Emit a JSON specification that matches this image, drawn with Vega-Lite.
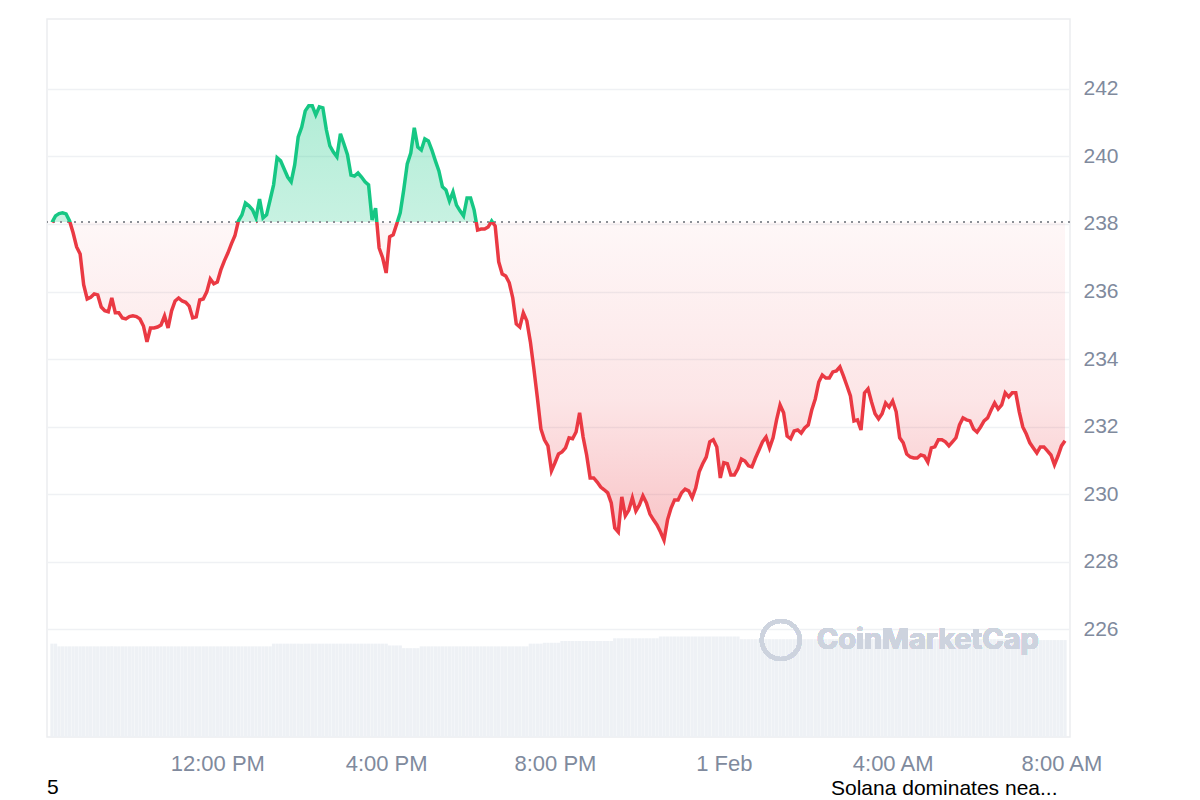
{
  "$schema": "https://vega.github.io/schema/vega-lite/v6.json",
  "width": 1023,
  "height": 718,
  "autosize": {"type": "none"},
  "padding": {"left": 47, "top": 19, "right": 130, "bottom": 63},
  "background": "white",
  "config": {"view": {"stroke": "#ebedf0", "strokeWidth": 1.5}, "font": "Liberation Sans"},
  "title": {"text": "5", "orient": "bottom", "anchor": "start", "frame": "group", "offset": -21, "fontSize": 21, "fontWeight": "normal", "color": "#000000", "font": "Liberation Sans"},
  "data": {"values": [
{"t":"2025-01-31T08:05","p":238.05,"v":104},{"t":"2025-01-31T08:10","p":238.24,"v":104},{"t":"2025-01-31T08:15","p":238.31,"v":101},{"t":"2025-01-31T08:20","p":238.33,"v":101},{"t":"2025-01-31T08:25","p":238.30,"v":101},{"t":"2025-01-31T08:30","p":238.09,"v":101},{"t":"2025-01-31T08:35","p":237.74,"v":101},{"t":"2025-01-31T08:40","p":237.32,"v":101},{"t":"2025-01-31T08:45","p":237.11,"v":101},{"t":"2025-01-31T08:50","p":236.20,"v":101},{"t":"2025-01-31T08:55","p":235.78,"v":101},
{"t":"2025-01-31T09:00","p":235.83,"v":101},{"t":"2025-01-31T09:05","p":235.93,"v":101},{"t":"2025-01-31T09:10","p":235.90,"v":101},{"t":"2025-01-31T09:15","p":235.54,"v":101},{"t":"2025-01-31T09:20","p":235.43,"v":101},{"t":"2025-01-31T09:25","p":235.40,"v":101},{"t":"2025-01-31T09:30","p":235.81,"v":101},{"t":"2025-01-31T09:35","p":235.37,"v":101},{"t":"2025-01-31T09:40","p":235.37,"v":101},{"t":"2025-01-31T09:45","p":235.22,"v":101},{"t":"2025-01-31T09:50","p":235.19,"v":101},{"t":"2025-01-31T09:55","p":235.26,"v":101},
{"t":"2025-01-31T10:00","p":235.28,"v":101},{"t":"2025-01-31T10:05","p":235.26,"v":101},{"t":"2025-01-31T10:10","p":235.19,"v":101},{"t":"2025-01-31T10:15","p":234.98,"v":101},{"t":"2025-01-31T10:20","p":234.51,"v":101},{"t":"2025-01-31T10:25","p":234.92,"v":101},{"t":"2025-01-31T10:30","p":234.92,"v":101},{"t":"2025-01-31T10:35","p":234.95,"v":101},{"t":"2025-01-31T10:40","p":235.01,"v":101},{"t":"2025-01-31T10:45","p":235.28,"v":101},{"t":"2025-01-31T10:50","p":234.92,"v":101},{"t":"2025-01-31T10:55","p":235.43,"v":101},
{"t":"2025-01-31T11:00","p":235.72,"v":101},{"t":"2025-01-31T11:05","p":235.81,"v":101},{"t":"2025-01-31T11:10","p":235.72,"v":101},{"t":"2025-01-31T11:15","p":235.68,"v":101},{"t":"2025-01-31T11:20","p":235.57,"v":101},{"t":"2025-01-31T11:25","p":235.22,"v":101},{"t":"2025-01-31T11:30","p":235.25,"v":101},{"t":"2025-01-31T11:35","p":235.75,"v":101},{"t":"2025-01-31T11:40","p":235.78,"v":101},{"t":"2025-01-31T11:45","p":235.99,"v":101},{"t":"2025-01-31T11:50","p":236.37,"v":101},{"t":"2025-01-31T11:55","p":236.23,"v":101},
{"t":"2025-01-31T12:00","p":236.28,"v":101},{"t":"2025-01-31T12:05","p":236.64,"v":101},{"t":"2025-01-31T12:10","p":236.91,"v":101},{"t":"2025-01-31T12:15","p":237.14,"v":101},{"t":"2025-01-31T12:20","p":237.41,"v":101},{"t":"2025-01-31T12:25","p":237.65,"v":101},{"t":"2025-01-31T12:30","p":238.09,"v":101},{"t":"2025-01-31T12:35","p":238.27,"v":101},{"t":"2025-01-31T12:40","p":238.62,"v":101},{"t":"2025-01-31T12:45","p":238.54,"v":101},{"t":"2025-01-31T12:50","p":238.42,"v":101},{"t":"2025-01-31T12:55","p":238.18,"v":101},
{"t":"2025-01-31T13:00","p":238.74,"v":101},{"t":"2025-01-31T13:05","p":238.18,"v":101},{"t":"2025-01-31T13:10","p":238.27,"v":101},{"t":"2025-01-31T13:15","p":238.71,"v":101},{"t":"2025-01-31T13:20","p":239.16,"v":104},{"t":"2025-01-31T13:25","p":239.96,"v":104},{"t":"2025-01-31T13:30","p":239.87,"v":104},{"t":"2025-01-31T13:35","p":239.63,"v":104},{"t":"2025-01-31T13:40","p":239.39,"v":104},{"t":"2025-01-31T13:45","p":239.25,"v":104},{"t":"2025-01-31T13:50","p":239.75,"v":104},{"t":"2025-01-31T13:55","p":240.58,"v":104},
{"t":"2025-01-31T14:00","p":240.87,"v":104},{"t":"2025-01-31T14:05","p":241.35,"v":104},{"t":"2025-01-31T14:10","p":241.50,"v":104},{"t":"2025-01-31T14:15","p":241.50,"v":104},{"t":"2025-01-31T14:20","p":241.23,"v":104},{"t":"2025-01-31T14:25","p":241.47,"v":104},{"t":"2025-01-31T14:30","p":241.44,"v":104},{"t":"2025-01-31T14:35","p":240.79,"v":104},{"t":"2025-01-31T14:40","p":240.31,"v":104},{"t":"2025-01-31T14:45","p":240.13,"v":104},{"t":"2025-01-31T14:50","p":239.99,"v":104},{"t":"2025-01-31T14:55","p":240.67,"v":104},
{"t":"2025-01-31T15:00","p":240.37,"v":104},{"t":"2025-01-31T15:05","p":240.05,"v":104},{"t":"2025-01-31T15:10","p":239.45,"v":104},{"t":"2025-01-31T15:15","p":239.42,"v":104},{"t":"2025-01-31T15:20","p":239.51,"v":104},{"t":"2025-01-31T15:25","p":239.39,"v":104},{"t":"2025-01-31T15:30","p":239.25,"v":104},{"t":"2025-01-31T15:35","p":239.16,"v":104},{"t":"2025-01-31T15:40","p":238.12,"v":104},{"t":"2025-01-31T15:45","p":238.47,"v":104},{"t":"2025-01-31T15:50","p":237.29,"v":104},{"t":"2025-01-31T15:55","p":237.00,"v":104},
{"t":"2025-01-31T16:00","p":236.55,"v":104},{"t":"2025-01-31T16:05","p":237.62,"v":102},{"t":"2025-01-31T16:10","p":237.68,"v":102},{"t":"2025-01-31T16:15","p":238.00,"v":102},{"t":"2025-01-31T16:20","p":238.33,"v":102},{"t":"2025-01-31T16:25","p":239.01,"v":99},{"t":"2025-01-31T16:30","p":239.78,"v":99},{"t":"2025-01-31T16:35","p":240.10,"v":99},{"t":"2025-01-31T16:40","p":240.85,"v":99},{"t":"2025-01-31T16:45","p":240.28,"v":99},{"t":"2025-01-31T16:50","p":240.19,"v":101},{"t":"2025-01-31T16:55","p":240.52,"v":101},
{"t":"2025-01-31T17:00","p":240.46,"v":101},{"t":"2025-01-31T17:05","p":240.19,"v":101},{"t":"2025-01-31T17:10","p":239.87,"v":101},{"t":"2025-01-31T17:15","p":239.57,"v":101},{"t":"2025-01-31T17:20","p":239.10,"v":101},{"t":"2025-01-31T17:25","p":239.01,"v":101},{"t":"2025-01-31T17:30","p":238.68,"v":101},{"t":"2025-01-31T17:35","p":238.95,"v":101},{"t":"2025-01-31T17:40","p":238.56,"v":101},{"t":"2025-01-31T17:45","p":238.39,"v":101},{"t":"2025-01-31T17:50","p":238.24,"v":101},{"t":"2025-01-31T17:55","p":238.77,"v":101},
{"t":"2025-01-31T18:00","p":238.77,"v":101},{"t":"2025-01-31T18:05","p":238.42,"v":101},{"t":"2025-01-31T18:10","p":237.82,"v":101},{"t":"2025-01-31T18:15","p":237.85,"v":101},{"t":"2025-01-31T18:20","p":237.85,"v":101},{"t":"2025-01-31T18:25","p":237.91,"v":101},{"t":"2025-01-31T18:30","p":238.09,"v":101},{"t":"2025-01-31T18:35","p":237.94,"v":101},{"t":"2025-01-31T18:40","p":236.88,"v":101},{"t":"2025-01-31T18:45","p":236.52,"v":101},{"t":"2025-01-31T18:50","p":236.46,"v":101},{"t":"2025-01-31T18:55","p":236.26,"v":101},
{"t":"2025-01-31T19:00","p":235.81,"v":101},{"t":"2025-01-31T19:05","p":235.04,"v":101},{"t":"2025-01-31T19:10","p":234.95,"v":101},{"t":"2025-01-31T19:15","p":235.37,"v":101},{"t":"2025-01-31T19:20","p":235.13,"v":101},{"t":"2025-01-31T19:25","p":234.51,"v":104},{"t":"2025-01-31T19:30","p":233.71,"v":104},{"t":"2025-01-31T19:35","p":232.85,"v":104},{"t":"2025-01-31T19:40","p":231.93,"v":104},{"t":"2025-01-31T19:45","p":231.61,"v":105},{"t":"2025-01-31T19:50","p":231.43,"v":105},{"t":"2025-01-31T19:55","p":230.69,"v":105},
{"t":"2025-01-31T20:00","p":230.93,"v":105},{"t":"2025-01-31T20:05","p":231.19,"v":105},{"t":"2025-01-31T20:10","p":231.25,"v":107},{"t":"2025-01-31T20:15","p":231.37,"v":107},{"t":"2025-01-31T20:20","p":231.67,"v":107},{"t":"2025-01-31T20:25","p":231.64,"v":107},{"t":"2025-01-31T20:30","p":231.84,"v":107},{"t":"2025-01-31T20:35","p":232.41,"v":107},{"t":"2025-01-31T20:40","p":231.69,"v":107},{"t":"2025-01-31T20:45","p":231.16,"v":107},{"t":"2025-01-31T20:50","p":230.48,"v":107},{"t":"2025-01-31T20:55","p":230.48,"v":107},
{"t":"2025-01-31T21:00","p":230.36,"v":107},{"t":"2025-01-31T21:05","p":230.21,"v":107},{"t":"2025-01-31T21:10","p":230.13,"v":107},{"t":"2025-01-31T21:15","p":230.04,"v":107},{"t":"2025-01-31T21:20","p":229.74,"v":107},{"t":"2025-01-31T21:25","p":229.00,"v":110},{"t":"2025-01-31T21:30","p":228.88,"v":110},{"t":"2025-01-31T21:35","p":229.92,"v":110},{"t":"2025-01-31T21:40","p":229.36,"v":110},{"t":"2025-01-31T21:45","p":229.53,"v":110},{"t":"2025-01-31T21:50","p":229.89,"v":110},{"t":"2025-01-31T21:55","p":229.50,"v":110},
{"t":"2025-01-31T22:00","p":229.68,"v":110},{"t":"2025-01-31T22:05","p":229.95,"v":110},{"t":"2025-01-31T22:10","p":229.74,"v":110},{"t":"2025-01-31T22:15","p":229.41,"v":110},{"t":"2025-01-31T22:20","p":229.24,"v":110},{"t":"2025-01-31T22:25","p":229.09,"v":110},{"t":"2025-01-31T22:30","p":228.88,"v":112},{"t":"2025-01-31T22:35","p":228.64,"v":112},{"t":"2025-01-31T22:40","p":229.24,"v":112},{"t":"2025-01-31T22:45","p":229.59,"v":112},{"t":"2025-01-31T22:50","p":229.83,"v":112},{"t":"2025-01-31T22:55","p":229.83,"v":112},
{"t":"2025-01-31T23:00","p":230.04,"v":112},{"t":"2025-01-31T23:05","p":230.15,"v":112},{"t":"2025-01-31T23:10","p":230.10,"v":112},{"t":"2025-01-31T23:15","p":229.89,"v":112},{"t":"2025-01-31T23:20","p":230.18,"v":112},{"t":"2025-01-31T23:25","p":230.66,"v":112},{"t":"2025-01-31T23:30","p":230.90,"v":112},{"t":"2025-01-31T23:35","p":231.10,"v":112},{"t":"2025-01-31T23:40","p":231.55,"v":112},{"t":"2025-01-31T23:45","p":231.61,"v":112},{"t":"2025-01-31T23:50","p":231.40,"v":112},{"t":"2025-01-31T23:55","p":230.48,"v":112},
{"t":"2025-02-01T00:00","p":230.93,"v":112},{"t":"2025-02-01T00:05","p":230.90,"v":112},{"t":"2025-02-01T00:10","p":230.57,"v":112},{"t":"2025-02-01T00:15","p":230.57,"v":112},{"t":"2025-02-01T00:20","p":230.75,"v":112},{"t":"2025-02-01T00:25","p":231.04,"v":109},{"t":"2025-02-01T00:30","p":230.98,"v":109},{"t":"2025-02-01T00:35","p":230.84,"v":109},{"t":"2025-02-01T00:40","p":230.81,"v":109},{"t":"2025-02-01T00:45","p":231.07,"v":109},{"t":"2025-02-01T00:50","p":231.31,"v":109},{"t":"2025-02-01T00:55","p":231.55,"v":109},
{"t":"2025-02-01T01:00","p":231.69,"v":109},{"t":"2025-02-01T01:05","p":231.37,"v":109},{"t":"2025-02-01T01:10","p":231.67,"v":109},{"t":"2025-02-01T01:15","p":232.20,"v":109},{"t":"2025-02-01T01:20","p":232.64,"v":109},{"t":"2025-02-01T01:25","p":232.41,"v":109},{"t":"2025-02-01T01:30","p":231.72,"v":109},{"t":"2025-02-01T01:35","p":231.64,"v":109},{"t":"2025-02-01T01:40","p":231.87,"v":109},{"t":"2025-02-01T01:45","p":231.90,"v":109},{"t":"2025-02-01T01:50","p":231.81,"v":109},{"t":"2025-02-01T01:55","p":231.96,"v":109},
{"t":"2025-02-01T02:00","p":232.05,"v":109},{"t":"2025-02-01T02:05","p":232.49,"v":109},{"t":"2025-02-01T02:10","p":232.82,"v":109},{"t":"2025-02-01T02:15","p":233.32,"v":109},{"t":"2025-02-01T02:20","p":233.53,"v":109},{"t":"2025-02-01T02:25","p":233.44,"v":109},{"t":"2025-02-01T02:30","p":233.44,"v":109},{"t":"2025-02-01T02:35","p":233.62,"v":109},{"t":"2025-02-01T02:40","p":233.65,"v":109},{"t":"2025-02-01T02:45","p":233.77,"v":109},{"t":"2025-02-01T02:50","p":233.50,"v":109},{"t":"2025-02-01T02:55","p":233.21,"v":109},
{"t":"2025-02-01T03:00","p":232.91,"v":109},{"t":"2025-02-01T03:05","p":232.17,"v":109},{"t":"2025-02-01T03:10","p":232.20,"v":109},{"t":"2025-02-01T03:15","p":231.90,"v":109},{"t":"2025-02-01T03:20","p":233.00,"v":109},{"t":"2025-02-01T03:25","p":233.12,"v":109},{"t":"2025-02-01T03:30","p":232.73,"v":109},{"t":"2025-02-01T03:35","p":232.38,"v":109},{"t":"2025-02-01T03:40","p":232.23,"v":109},{"t":"2025-02-01T03:45","p":232.38,"v":109},{"t":"2025-02-01T03:50","p":232.70,"v":109},{"t":"2025-02-01T03:55","p":232.58,"v":109},
{"t":"2025-02-01T04:00","p":232.76,"v":109},{"t":"2025-02-01T04:05","p":232.44,"v":109},{"t":"2025-02-01T04:10","p":231.67,"v":109},{"t":"2025-02-01T04:15","p":231.52,"v":109},{"t":"2025-02-01T04:20","p":231.19,"v":109},{"t":"2025-02-01T04:25","p":231.10,"v":109},{"t":"2025-02-01T04:30","p":231.07,"v":109},{"t":"2025-02-01T04:35","p":231.07,"v":109},{"t":"2025-02-01T04:40","p":231.16,"v":109},{"t":"2025-02-01T04:45","p":231.13,"v":109},{"t":"2025-02-01T04:50","p":230.95,"v":109},{"t":"2025-02-01T04:55","p":231.37,"v":109},
{"t":"2025-02-01T05:00","p":231.40,"v":109},{"t":"2025-02-01T05:05","p":231.61,"v":109},{"t":"2025-02-01T05:10","p":231.61,"v":109},{"t":"2025-02-01T05:15","p":231.55,"v":109},{"t":"2025-02-01T05:20","p":231.43,"v":109},{"t":"2025-02-01T05:25","p":231.55,"v":109},{"t":"2025-02-01T05:30","p":231.67,"v":109},{"t":"2025-02-01T05:35","p":232.05,"v":109},{"t":"2025-02-01T05:40","p":232.26,"v":109},{"t":"2025-02-01T05:45","p":232.20,"v":109},{"t":"2025-02-01T05:50","p":232.17,"v":109},{"t":"2025-02-01T05:55","p":231.93,"v":109},
{"t":"2025-02-01T06:00","p":231.84,"v":109},{"t":"2025-02-01T06:05","p":231.99,"v":109},{"t":"2025-02-01T06:10","p":232.17,"v":109},{"t":"2025-02-01T06:15","p":232.26,"v":109},{"t":"2025-02-01T06:20","p":232.49,"v":109},{"t":"2025-02-01T06:25","p":232.70,"v":109},{"t":"2025-02-01T06:30","p":232.52,"v":109},{"t":"2025-02-01T06:35","p":232.64,"v":109},{"t":"2025-02-01T06:40","p":233.00,"v":109},{"t":"2025-02-01T06:45","p":232.88,"v":109},{"t":"2025-02-01T06:50","p":233.00,"v":109},{"t":"2025-02-01T06:55","p":233.00,"v":109},
{"t":"2025-02-01T07:00","p":232.44,"v":109},{"t":"2025-02-01T07:05","p":231.99,"v":109},{"t":"2025-02-01T07:10","p":231.78,"v":109},{"t":"2025-02-01T07:15","p":231.52,"v":109},{"t":"2025-02-01T07:20","p":231.37,"v":109},{"t":"2025-02-01T07:25","p":231.22,"v":108},{"t":"2025-02-01T07:30","p":231.40,"v":108},{"t":"2025-02-01T07:35","p":231.40,"v":108},{"t":"2025-02-01T07:40","p":231.28,"v":108},{"t":"2025-02-01T07:45","p":231.16,"v":108},{"t":"2025-02-01T07:50","p":230.87,"v":108},{"t":"2025-02-01T07:55","p":231.13,"v":108},
{"t":"2025-02-01T08:00","p":231.43,"v":108},{"t":"2025-02-01T08:05","p":231.58,"v":108}
  ]},
  "layer": [
    {
      "mark": {"type": "bar", "width": 3.3, "color": "#eef1f5", "clip": true},
      "encoding": {
        "x": {
          "field": "t", "type": "temporal", "title": "Solana dominates nea...",
          "scale": {"domain": [{"year": 2025, "month": 1, "date": 31, "hours": 8, "minutes": 5}, {"year": 2025, "month": 2, "date": 1, "hours": 8, "minutes": 5}], "nice": false},
          "axis": {
            "values": [
              {"year": 2025, "month": 1, "date": 31, "hours": 12},
              {"year": 2025, "month": 1, "date": 31, "hours": 16},
              {"year": 2025, "month": 1, "date": 31, "hours": 20},
              {"year": 2025, "month": 2, "date": 1, "hours": 0},
              {"year": 2025, "month": 2, "date": 1, "hours": 4},
              {"year": 2025, "month": 2, "date": 1, "hours": 8}
            ],
            "labelExpr": "hours(datum.value) == 0 ? timeFormat(datum.value, '%-d %b') : timeFormat(datum.value, '%-I:%M %p')",
            "grid": false, "domain": false, "ticks": false,
            "labelColor": "#808a9d", "labelFontSize": 22, "labelFont": "Liberation Sans",
            "labelPadding": 16, "labelFlush": false, "labelOverlap": false,
            "titleFontSize": 21, "titleFontWeight": "normal",
            "titleColor": "#000000", "titleFont": "Liberation Sans", "titleAlign": "right",
            "titleAnchor": "end", "titleX": 1010, "titlePadding": 3
          }
        },
        "y": {"field": "v", "type": "quantitative", "scale": {"domain": [0, 800]}, "axis": null}
      }
    },
    {
      "layer": [
        {
          "mark": {"type": "area", "interpolate": "linear",
            "fill": {"gradient": "linear", "x1": 0, "y1": 0, "x2": 0, "y2": 1, "stops": [
              {"offset": 0, "color": "rgba(22,199,132,0.33)"},
              {"offset": 0.2683, "color": "rgba(22,199,132,0.24)"},
              {"offset": 0.2683, "color": "rgba(234,57,67,0.04)"},
              {"offset": 0.674, "color": "rgba(234,57,67,0.13)"},
              {"offset": 1, "color": "rgba(234,57,67,0.3)"}
            ]}},
          "encoding": {
            "x": {"field": "t", "type": "temporal", "title": "Solana dominates nea..."},
            "y": {"field": "p", "type": "quantitative", "title": null,
              "scale": {"domain": [222.81, 244.07], "nice": false, "zero": false},
              "axis": {"orient": "right", "values": [226, 228, 230, 232, 234, 236, 238, 240, 242],
                "grid": true, "gridColor": "#eff1f4", "gridWidth": 1.5, "domain": false, "ticks": false,
                "labelColor": "#808a9d", "labelFontSize": 21, "labelFont": "Liberation Sans", "labelPadding": 13}},
            "y2": {"datum": 238.05}
          }
        },
        {
          "mark": {"type": "rule", "stroke": "#8c8f96", "strokeDash": [2, 5], "strokeWidth": 1.5},
          "encoding": {"y": {"datum": 238.05, "type": "quantitative", "title": null}}
        },
        {
          "mark": {"type": "line", "interpolate": "linear", "strokeWidth": 3.5,
            "stroke": {"gradient": "linear", "x1": 0, "y1": 0, "x2": 0, "y2": 1, "stops": [
              {"offset": 0, "color": "#16c784"},
              {"offset": 0.2683, "color": "#16c784"},
              {"offset": 0.2683, "color": "#ea3943"},
              {"offset": 1, "color": "#ea3943"}
            ]}},
          "encoding": {
            "x": {"field": "t", "type": "temporal", "title": "Solana dominates nea..."},
            "y": {"field": "p", "type": "quantitative", "title": null}
          }
        },
        {
          "mark": {"type": "point", "shape": "circle", "filled": false, "size": 1450, "stroke": "#cdd3de", "strokeWidth": 4, "opacity": 1},
          "encoding": {
            "x": {"datum": {"year": 2025, "month": 2, "date": 1, "hours": 1, "minutes": 21}, "type": "temporal", "title": "Solana dominates nea..."},
            "y": {"datum": 225.68, "type": "quantitative", "title": null}
          }
        },
        {
          "mark": {"type": "text", "text": "CoinMarketCap", "font": "Inter", "fontSize": 29, "fontWeight": "bold", "color": "#cdd3de", "align": "center", "baseline": "middle"},
          "encoding": {
            "x": {"datum": {"year": 2025, "month": 2, "date": 1, "hours": 4, "minutes": 50}, "type": "temporal", "title": "Solana dominates nea..."},
            "y": {"datum": 225.68, "type": "quantitative", "title": null}
          }
        }
      ]
    }
  ],
  "resolve": {"scale": {"y": "independent"}}
}
